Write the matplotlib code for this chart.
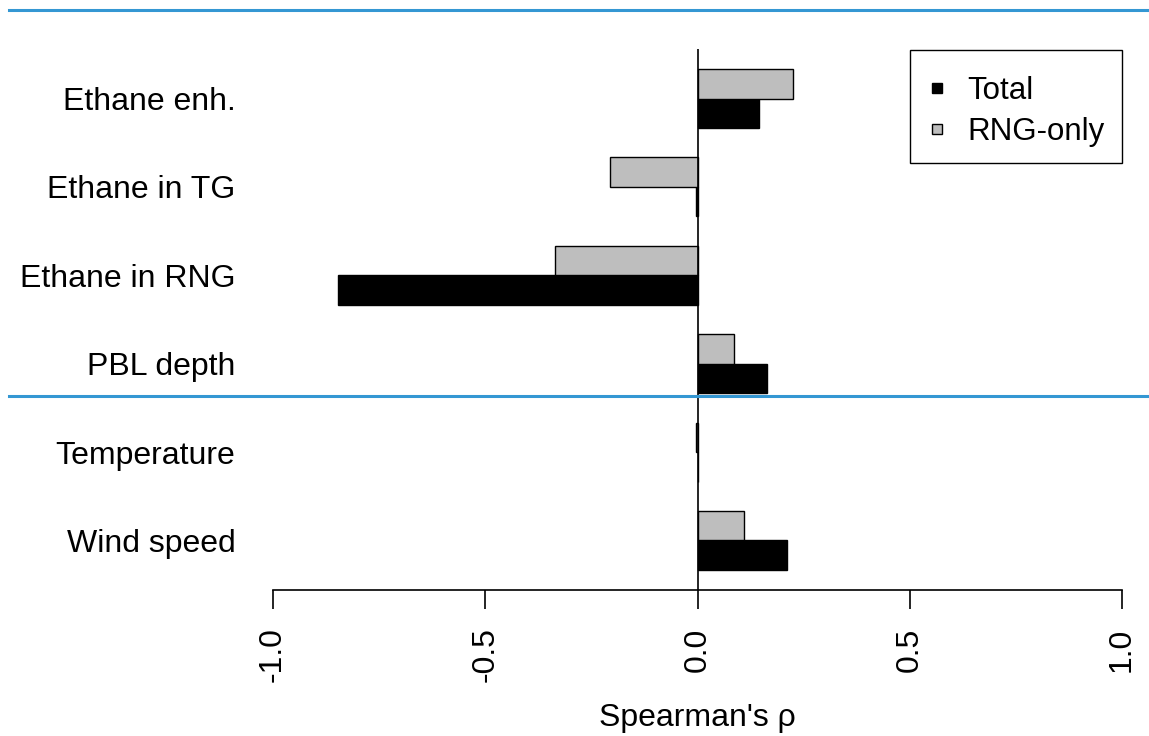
import numpy as np
import matplotlib
matplotlib.use("Agg")
import matplotlib.pyplot as plt
from matplotlib.lines import Line2D
from matplotlib.patches import Rectangle
from matplotlib.transforms import blended_transform_factory

plt.rcParams["font.family"] = ["Liberation Sans", "DejaVu Sans"]
plt.rcParams["axes.unicode_minus"] = False

# ===============================
# DATA (bottom to top)
# ===============================
labels = ["Wind speed", "Temperature", "PBL depth",
          "Ethane in RNG", "Ethane in TG", "Ethane enh."]
total = [0.211, 0.001, 0.163, -0.848, -0.003, 0.146]
rng_only = [0.110, -0.003, 0.085, -0.335, -0.207, 0.226]
xticks = [-1.0, -0.5, 0.0, 0.5, 1.0]
sep_levels = [20, 6.9]   # blue separator lines (bar units)

W, H = 1149, 736
AX_L, AX_R, AX_T, AX_B = 273, 1122, 49, 590   # plot region, pixels
fig = plt.figure(figsize=(W / 100, H / 100), dpi=100)
ax = fig.add_axes([AX_L / W, 1 - AX_B / H, (AX_R - AX_L) / W, (AX_B - AX_T) / H])

# bar positions like R barplot(beside=TRUE, space=c(0,1))
idx = np.arange(len(labels))
y_total = 3 * idx + 1.5
y_rng = 3 * idx + 2.5
y_group = 3 * idx + 2

ax.barh(y_total, total, height=1.0, color="black", edgecolor="black",
        linewidth=1.0, label="Total", zorder=2)
ax.barh(y_rng, rng_only, height=1.0, color="#bebebe", edgecolor="black",
        linewidth=1.0, label="RNG-only", zorder=2)
ax.axvline(0, color="black", lw=1.2, zorder=3)

ax.set_xlim(-1, 1)
ax.set_ylim(0.32, 18.68)

# axes styling
for s in ["left", "top", "right"]:
    ax.spines[s].set_visible(False)
ax.spines["bottom"].set_linewidth(1.2)
ax.set_xticks(xticks)
ax.set_xticklabels([f"{v:.1f}" for v in xticks], rotation=90, fontsize=23)
ax.tick_params(axis="x", length=14, width=1.2, pad=13)
ax.set_yticks(y_group)
ax.set_yticklabels(labels, fontsize=23)
ax.tick_params(axis="y", length=0, pad=27)
ax.set_xlabel("Spearman's ρ", fontsize=23, labelpad=15)

# legend (entries without frame, box drawn separately like R's legend())
def ax_frac(px, py):
    return (px - AX_L) / (AX_R - AX_L), (AX_B - py) / (AX_B - AX_T)

handles = [
    Line2D([], [], marker="s", ls="none", ms=7, mfc="black", mec="black", mew=1),
    Line2D([], [], marker="s", ls="none", ms=7, mfc="#bebebe", mec="black", mew=1),
]
ax.legend(handles, ["Total", "RNG-only"], loc="upper right",
          bbox_to_anchor=ax_frac(AX_R + 3, AX_T + 7), fontsize=22.5,
          frameon=False, borderpad=0.65, handlelength=0.3,
          handletextpad=0.82, labelspacing=0.35, borderaxespad=0)
x0, y0 = ax_frac(910, 163)
x1, y1 = ax_frac(1122, 50)
ax.add_patch(Rectangle((x0, y0), x1 - x0, y1 - y0, transform=ax.transAxes,
                       fill=False, edgecolor="black", lw=1.0, clip_on=False,
                       zorder=5))

# blue separators spanning the figure width
trans = blended_transform_factory(fig.transFigure, ax.transData)
for lvl in sep_levels:
    ax.plot([9 / W, 1], [lvl, lvl], color="#3497d3", lw=2.2,
            transform=trans, clip_on=False, zorder=4)

fig.savefig("out.png", dpi=100)
